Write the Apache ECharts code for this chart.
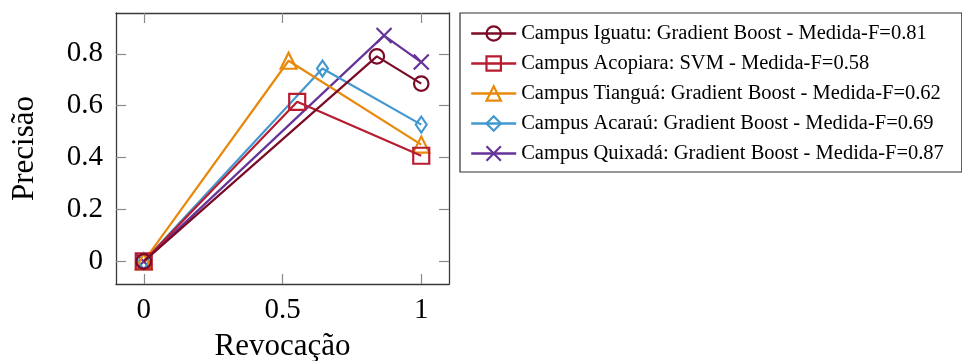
<!DOCTYPE html>
<html>
<head>
<meta charset="utf-8">
<script src="https://cdn.jsdelivr.net/npm/echarts@6/dist/echarts.min.js"></script>
<style>
html,body{margin:0;padding:0;background:#fff;}
#main{width:962px;height:361px;}
</style>
</head>
<body>
<div id="main"></div>
<script>
var seriesNames = [
  'Campus Iguatu: Gradient Boost - Medida-F=0.81',
  'Campus Acopiara: SVM - Medida-F=0.58',
  'Campus Tianguá: Gradient Boost - Medida-F=0.62',
  'Campus Acaraú: Gradient Boost - Medida-F=0.69',
  'Campus Quixadá: Gradient Boost - Medida-F=0.87'
];
var iguatu   = [[0, 0], [0.84, 0.79], [1, 0.685]];
var acopiara = [[0, 0], [0.553, 0.615], [1, 0.407]];
var tiangua  = [[0, 0], [0.522, 0.773], [1, 0.45]];
var acarau   = [[0, 0], [0.644, 0.743], [1, 0.527]];
var quixada  = [[0, 0], [0.866, 0.87], [1, 0.768]];
var xTicks = [0, 0.5, 1];
var yTicks = [0, 0.2, 0.4, 0.6, 0.8];
var xTickLabels = ['0', '0.5', '1'];
var yTickLabels = ['0', '0.2', '0.4', '0.6', '0.8'];

var colors = ['#7A0A26', '#B71C31', '#E8890C', '#4399CF', '#663399'];
var symbols = ['circle', 'rect', 'triangle', 'diamond', 'path://M0,0L10,10M10,0L0,10'];
var symSizes = [14.5, 16, 16, [11, 16], 15];
var datasets = [iguatu, acopiara, tiangua, acarau, quixada];

var font = 'Liberation Serif';
var chart = echarts.init(document.getElementById('main'), null, {renderer: 'canvas'});

function fmtX(v){ var i = xTicks.indexOf(v); return i >= 0 ? xTickLabels[i] : ''; }
function fmtY(v){ var i = yTicks.indexOf(Math.round(v*10)/10); return i >= 0 ? yTickLabels[i] : ''; }

var frameLine = {show: true, onZero: false, lineStyle: {color: '#3a3a3a', width: 1.3}};
var tickStyle = {show: true, inside: true, length: 10, lineStyle: {color: '#8a8a8a', width: 1.2}};

var series = datasets.map(function(d, i){
  return {
    name: seriesNames[i],
    type: 'line',
    data: d,
    symbol: symbols[i],
    symbolSize: symSizes[i],
    showAllSymbol: true,
    lineStyle: {color: colors[i], width: 2.2},
    itemStyle: {color: 'transparent', borderColor: colors[i], borderWidth: 2.2},
    emphasis: {disabled: true},
    z: 2 + (4 - i)
  };
});

chart.setOption({
  animation: false,
  backgroundColor: '#fff',
  grid: {left: 116, top: 13, width: 333, height: 271, containLabel: false, outerBoundsMode: 'none'},
  legend: {
    orient: 'vertical',
    left: 460, top: 13,
    padding: [10, 18, 8, 10],
    borderColor: '#333', borderWidth: 1.2,
    itemWidth: 45, itemHeight: 18, itemGap: 9,
    lineStyle: {width: 2.4},
    itemStyle: {borderWidth: 2.2},
    textStyle: {fontFamily: font, fontSize: 20.5, color: '#000', lineHeight: 19},
    data: seriesNames
  },
  xAxis: [{
    type: 'value', min: -0.1, max: 1.1, position: 'bottom',
    name: 'Revocação', nameLocation: 'middle', nameGap: 47,
    nameTextStyle: {fontFamily: font, fontSize: 31, color: '#000'},
    axisLine: frameLine,
    axisTick: Object.assign({customValues: xTicks}, tickStyle),
    axisLabel: {customValues: xTicks, formatter: fmtX, margin: 12, fontFamily: font, fontSize: 29, color: '#000'},
    splitLine: {show: false}
  }, {
    type: 'value', min: -0.1, max: 1.1, position: 'top',
    axisLine: frameLine,
    axisTick: Object.assign({customValues: xTicks}, tickStyle),
    axisLabel: {show: false},
    splitLine: {show: false}
  }],
  yAxis: [{
    type: 'value', min: -0.087, max: 0.957, position: 'left',
    name: 'Precisão', nameLocation: 'middle', nameGap: 76, nameRotate: 90,
    nameTextStyle: {fontFamily: font, fontSize: 31, color: '#000'},
    axisLine: frameLine,
    axisTick: Object.assign({customValues: yTicks}, tickStyle),
    axisLabel: {customValues: yTicks, formatter: fmtY, margin: 13, fontFamily: font, fontSize: 29, color: '#000'},
    splitLine: {show: false}
  }, {
    type: 'value', min: -0.087, max: 0.957, position: 'right',
    axisLine: frameLine,
    axisTick: Object.assign({customValues: yTicks}, tickStyle),
    axisLabel: {show: false},
    splitLine: {show: false}
  }],
  series: series
});
</script>
</body>
</html>
